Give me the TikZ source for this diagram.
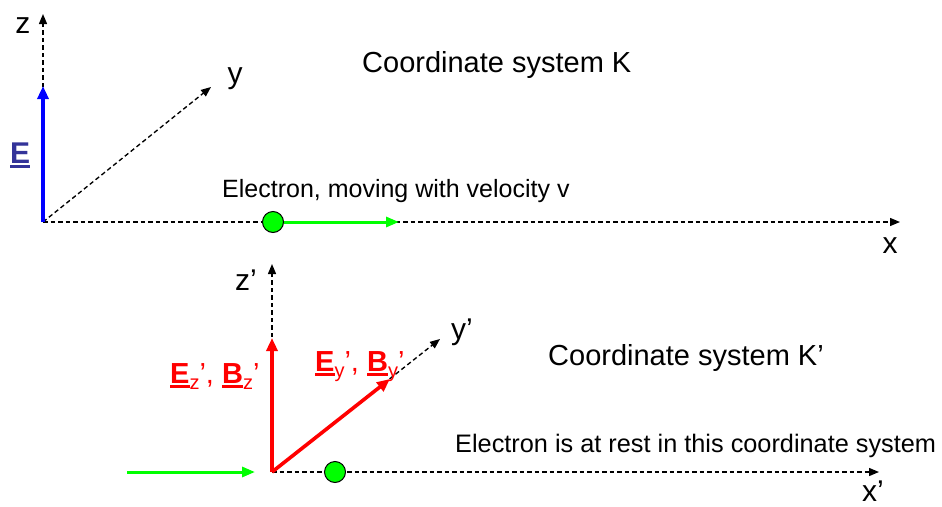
\documentclass[tikz,border=0pt]{standalone}
\usepackage{fontspec}
\setmainfont{Liberation Sans}
\usetikzlibrary{arrows.meta}
\definecolor{eblue}{RGB}{51,51,153}
\definecolor{egreen}{RGB}{0,255,0}
\newcommand\ulbox[1]{\setbox0\hbox{#1}\rlap{\rule[-0.16em]{\wd0}{0.09em}}\box0}
\newcommand\subsc[1]{\raisebox{-0.22em}{\fontsize{20}{20}\selectfont #1}}
\tikzset{
  axis/.style={dashed, dash pattern=on 4.5pt off 3pt, line width=1.35pt, -{Triangle[length=10pt,width=8pt]}},
  vec/.style={line width=3.6pt, -{Triangle[length=13pt,width=11pt]}},
  gvec/.style={line width=3pt, egreen, -{Triangle[length=13pt,width=10pt]}},
  electron/.style={circle, draw=black, line width=1pt, fill=egreen, minimum size=21pt, inner sep=0pt},
  axlabel/.style={font=\fontsize{30}{30}\selectfont, anchor=base, inner sep=0pt},
  title/.style={font=\fontsize{29}{30}\selectfont, anchor=base west, inner sep=0pt},
  note/.style={font=\fontsize{25}{26}\selectfont, anchor=base west, inner sep=0pt},
  flabel/.style={font=\fontsize{29}{30}\selectfont, anchor=base west, inner sep=0pt}
}
\begin{document}
\begin{tikzpicture}[x=1pt,y=-1pt]
\useasboundingbox (0,0) rectangle (942,506);
% ---------- system K ----------
\coordinate (O1) at (43,222);
\coordinate (zT) at (43,14);
\coordinate (yT) at (211,87);
\coordinate (xT) at (900,222);
\coordinate (ET) at (43,86);
\coordinate (vT) at (399,222);
\draw[axis] (O1) -- (zT);
\draw[axis] (O1) -- (yT);
\draw[axis] (O1) -- (xT);
\draw[vec, blue] (O1) -- (ET);
\node[electron] (e1) at (273,222) {};
\draw[gvec] (e1.east) -- (vT);
\node[axlabel] (lz) at (23,33) {z};
\node[axlabel] (ly) at (235,83) {y};
\node[axlabel] (lx) at (890,253) {x};
\node[flabel, text=eblue, font=\fontsize{30}{30}\selectfont] (lE) at (10,163) {\bfseries\ulbox{E}};
\node[title] (tK) at (362,72) {Coordinate system K};
\node[note] (n1) at (222,197) {Electron, moving with velocity v};
% ---------- system K' ----------
\coordinate (O2) at (272,472);
\coordinate (z2T) at (272,264);
\coordinate (y2T) at (440,339);
\coordinate (x2T) at (879,472);
\coordinate (EzT) at (272,338);
\coordinate (EyT) at (390,379);
\coordinate (gS) at (127,472);
\coordinate (gE) at (255,472);
\draw[axis] (O2) -- (z2T);
\draw[axis] (O2) -- (y2T);
\draw[axis] (O2) -- (x2T);
\draw[vec, red] (O2) -- (EzT);
\draw[vec, red] (O2) -- (EyT);
\draw[gvec] (gS) -- (gE);
\node[electron] (e2) at (335,472) {};
\node[axlabel, anchor=base west] (lz2) at (235,290) {z’};
\node[axlabel, anchor=base west] (ly2) at (451,339) {y’};
\node[axlabel, anchor=base west] (lx2) at (862,501) {x’};
\node[flabel, text=red] (lEz) at (170,383) {\bfseries\ulbox{E}\mdseries\subsc{z}’, \bfseries\ulbox{B}\mdseries\subsc{z}’};
\node[flabel, text=red] (lEy) at (315,371) {\bfseries\ulbox{E}\mdseries\subsc{y}’, \bfseries\ulbox{B}\mdseries\subsc{y}’};
\node[title] (tK2) at (548,365) {Coordinate system K’};
\node[note, font=\fontsize{25.3}{26}\selectfont] (n2) at (455,452) {Electron is at rest in this coordinate system};
\end{tikzpicture}
\end{document}
